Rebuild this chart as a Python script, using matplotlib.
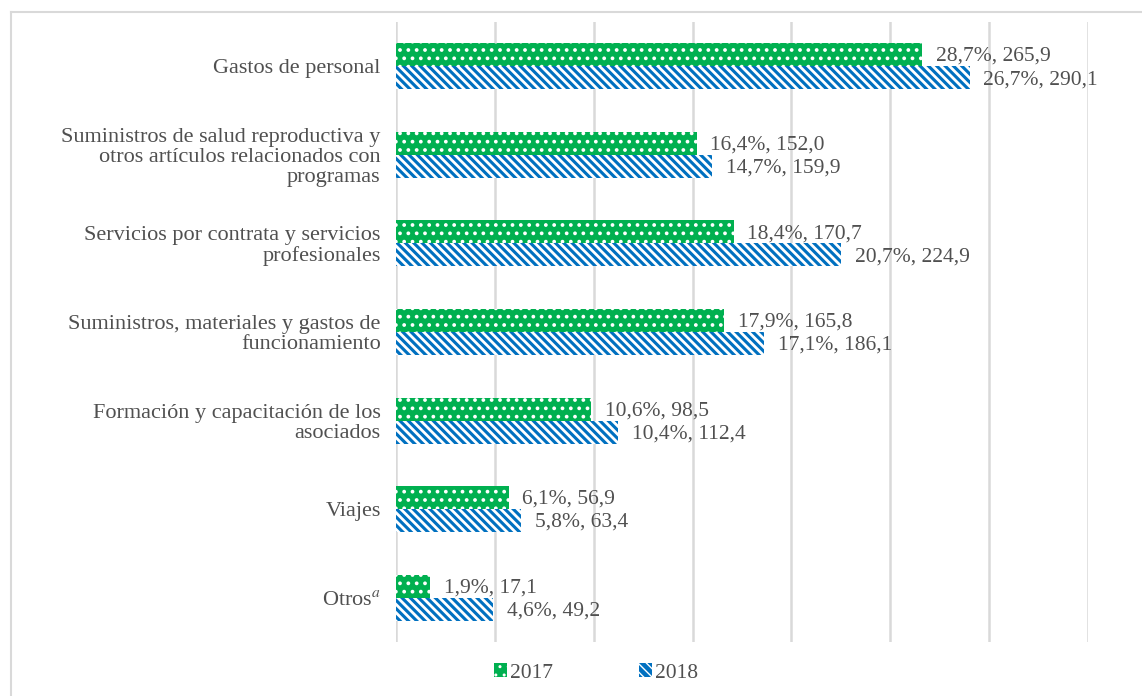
import matplotlib.pyplot as plt
import numpy as np
from matplotlib.patches import Patch
from matplotlib.lines import Line2D

# data (millones de USD)
categories = [
    "Gastos de personal",
    "Suministros de salud reproductiva y\notros artículos relacionados con\nprogramas",
    "Servicios por contrata y servicios\nprofesionales",
    "Suministros, materiales y gastos de\nfuncionamiento",
    "Formación y capacitación de los\nasociados",
    "Viajes",
    "Otros$^{a}$",
]
pct_2017 = [28.7, 16.4, 18.4, 17.9, 10.6, 6.1, 1.9]
val_2017 = [265.9, 152.0, 170.7, 165.8, 98.5, 56.9, 17.1]
pct_2018 = [26.7, 14.7, 20.7, 17.1, 10.4, 5.8, 4.6]
val_2018 = [290.1, 159.9, 224.9, 186.1, 112.4, 63.4, 49.2]
years = ["2017", "2018"]

GREEN = "#00B050"
BLUE = "#0070C0"
GRID = "#D9D9D9"
TEXT = "#505050"

plt.rcParams["font.family"] = ["Liberation Serif", "DejaVu Serif"]
plt.rcParams["mathtext.fontset"] = "stix"

HATCH_17 = ".."
HATCH_18 = "\\\\\\\\"
HLW_17 = 1.5
HLW_18 = 2.0


def fmt(p, v):
    return f"{p:.1f}%, {v:.1f}".replace(".", ",")


fig = plt.figure(figsize=(11.42, 6.96), dpi=100)
ax = fig.add_axes([0.3468, 0.0776, 0.9527 - 0.3468, 0.9684 - 0.0776])

y = np.arange(len(categories))
h = 0.26
with plt.rc_context({"hatch.linewidth": HLW_17}):
    ax.barh(y - h / 2, val_2017, height=h, color=GREEN, edgecolor="white",
            linewidth=0, hatch=HATCH_17, zorder=3)
    p17 = Patch(facecolor=GREEN, edgecolor="white", linewidth=0, hatch=HATCH_17)
with plt.rc_context({"hatch.linewidth": HLW_18}):
    ax.barh(y + h / 2, val_2018, height=h, color=BLUE, edgecolor="white",
            linewidth=0, hatch=HATCH_18, zorder=3)
    p18 = Patch(facecolor=BLUE, edgecolor="white", linewidth=0, hatch=HATCH_18)

for i in range(len(categories)):
    ax.text(val_2017[i] + 7, y[i] - h / 2 + 0.02, fmt(pct_2017[i], val_2017[i]),
            va="center", ha="left", fontsize=15.5, color=TEXT)
    ax.text(val_2018[i] + 7, y[i] + h / 2 + 0.02, fmt(pct_2018[i], val_2018[i]),
            va="center", ha="left", fontsize=15.5, color=TEXT)

ax.set_xlim(0, 350)
ax.set_ylim(len(categories) - 0.5, -0.5)
ax.set_xticks(np.arange(0, 351, 50))
ax.set_xticklabels([])
ax.tick_params(axis="x", length=0)
ax.tick_params(axis="y", length=0, pad=11)
ax.set_yticks(y)
ax.set_yticklabels(categories, fontsize=16, color=TEXT, linespacing=1.07)
ax.grid(axis="x", color=GRID, linewidth=1.8, zorder=0)
for s in ax.spines.values():
    s.set_visible(False)

fig.legend([p17, p18], years, loc="center", bbox_to_anchor=(0.522, 0.033),
           ncol=2, frameon=False, fontsize=15.5, labelcolor=TEXT,
           handlelength=0.6, handleheight=0.6, handletextpad=0.15,
           columnspacing=4.0)

# outer light border (chart area frame)
fig.add_artist(Line2D([11 / 1142, 11 / 1142], [0, 1 - 12 / 696],
                      transform=fig.transFigure, color=GRID, linewidth=1.5))
fig.add_artist(Line2D([11 / 1142, 1], [1 - 12 / 696, 1 - 12 / 696],
                      transform=fig.transFigure, color=GRID, linewidth=1.5))

fig.savefig("out.png", dpi=100)
